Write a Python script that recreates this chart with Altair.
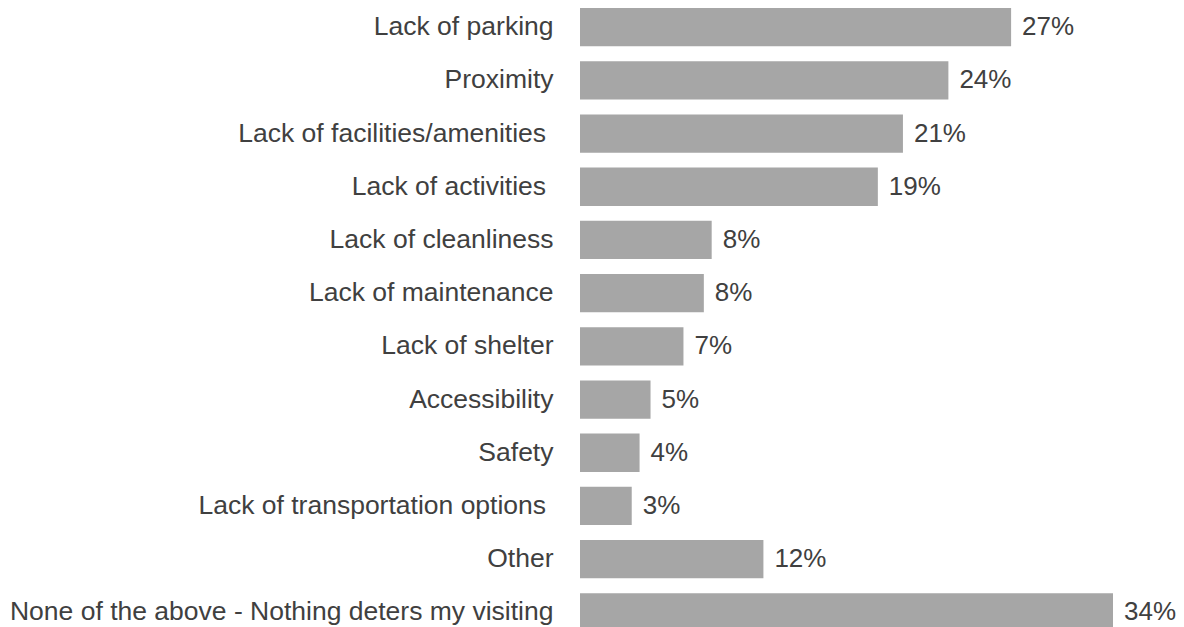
import altair as alt
import pandas as pd

categories = [
    "Lack of parking",
    "Proximity",
    "Lack of facilities/amenities ",
    "Lack of activities ",
    "Lack of cleanliness",
    "Lack of maintenance",
    "Lack of shelter",
    "Accessibility",
    "Safety",
    "Lack of transportation options ",
    "Other",
    "None of the above - Nothing deters my visiting",
]
values = [27.5, 23.5, 20.6, 19.0, 8.4, 7.9, 6.6, 4.5, 3.8, 3.3, 11.7, 34.0]
labels = ["27%", "24%", "21%", "19%", "8%", "8%", "7%", "5%", "4%", "3%", "12%", "34%"]

df = pd.DataFrame({"category": categories, "value": values, "label": labels})

FONT = "Liberation Sans"
TEXT_COLOR = "#404040"
FS = 26.5

y_enc = alt.Y(
    "category:N",
    sort=categories,
    scale=alt.Scale(range=[0, 623.5], paddingInner=0.28, paddingOuter=0),
    axis=alt.Axis(
        title=None,
        domain=False,
        ticks=False,
        labelPadding={"condition": {"test": "test(/ $/, datum.value)", "value": 34.4}, "value": 27},
        labelFontSize=FS,
        labelFont=FONT,
        labelColor=TEXT_COLOR,
        labelLimit=0,
    ),
)
x_enc = alt.X("value:Q", scale=alt.Scale(domain=[0, 34], nice=False, zero=True), axis=None)

bars = alt.Chart(df).mark_bar(color="#A6A6A6").encode(y=y_enc, x=x_enc)
text = alt.Chart(df).mark_text(
    align="left", baseline="middle", dx=11, fontSize=26, font=FONT, color=TEXT_COLOR
).encode(y=alt.Y("category:N", sort=categories), x="value:Q", text="label:N")

chart = (
    alt.layer(bars, text)
    .properties(
        width=533,
        height=619,
        autosize=alt.AutoSizeParams(type="none"),
        padding={"left": 572, "right": 63, "top": 0, "bottom": 0},
        background="white",
    )
    .configure_view(strokeWidth=0, stroke=None)
)

chart.save("out.html", embed_options={"renderer": "svg", "actions": False})
